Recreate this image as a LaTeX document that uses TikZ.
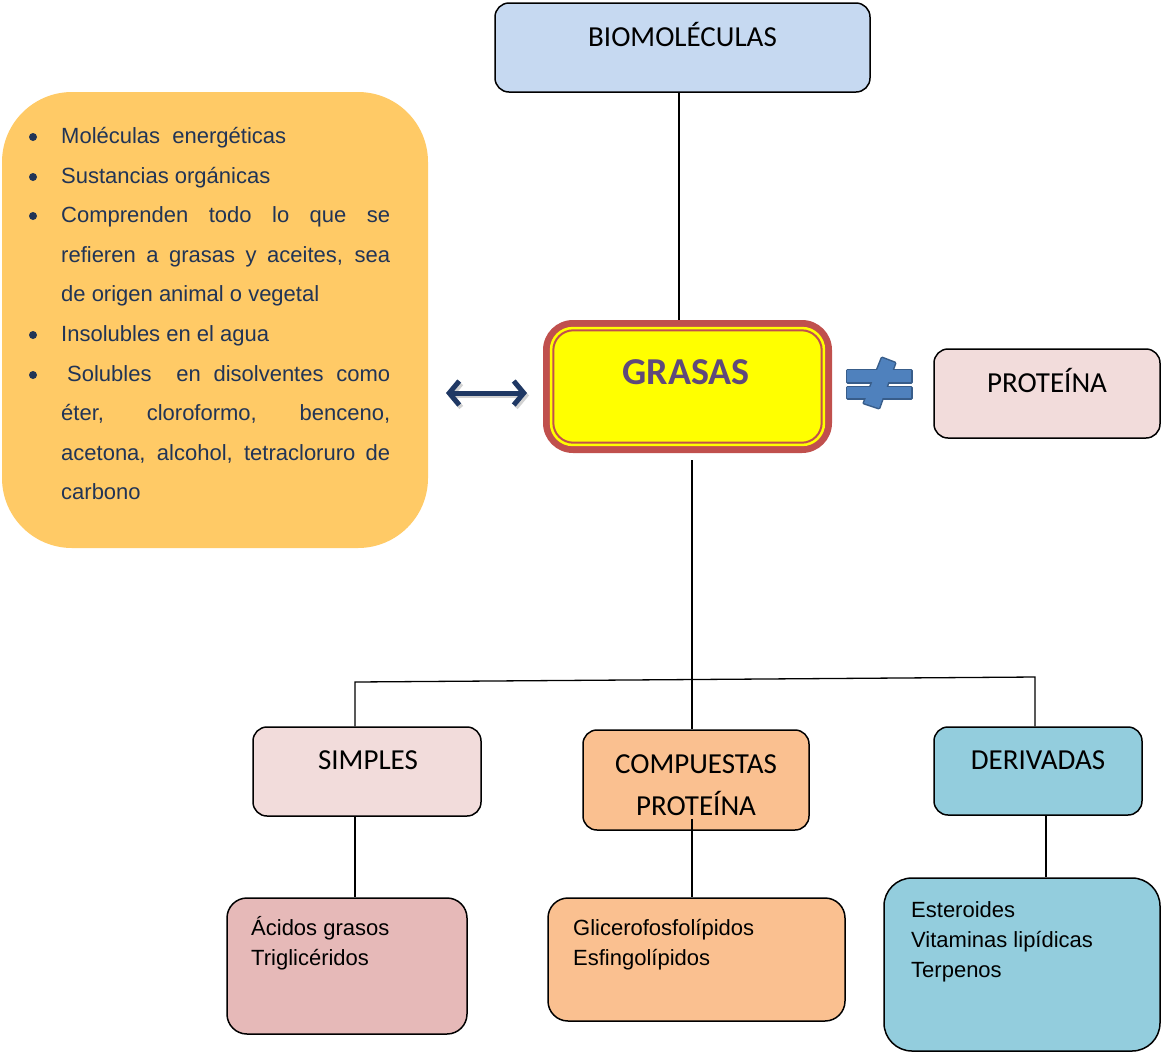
\documentclass[tikz,border=0pt]{standalone}
\usepackage{fontspec}
\setmainfont{Liberation Sans}
\newfontfamily\carlito{Carlito}
\usetikzlibrary{arrows.meta,calc}

\definecolor{bioblue}{RGB}{198,217,241}
\definecolor{rosa}{RGB}{242,220,219}
\definecolor{rosaosc}{RGB}{230,185,184}
\definecolor{naranja}{RGB}{250,192,144}
\definecolor{turq}{RGB}{147,205,221}
\definecolor{ambar}{RGB}{255,202,102}
\definecolor{rojo}{RGB}{192,80,77}
\definecolor{amarillo}{RGB}{255,255,0}
\definecolor{morado}{RGB}{95,73,122}
\definecolor{marino}{RGB}{31,56,100}
\definecolor{texto}{RGB}{33,52,86}
\definecolor{azul}{RGB}{79,129,189}
\definecolor{azulosc}{RGB}{56,93,138}

\begin{document}
\begin{tikzpicture}[x=1pt,y=-1pt,
  caja/.style={draw=black, line width=1.5pt, rounded corners=14pt, inner sep=0pt},
  titulo/.style={anchor=base, inner sep=0pt, font=\carlito\fontsize{29}{34}\selectfont},
  cuerpo/.style={anchor=base west, inner sep=0pt, font=\fontsize{22}{26}\selectfont},
  lista/.style={cuerpo, text=texto},
  vineta/.style={circle, fill=texto, minimum size=8pt, inner sep=0pt},
  enlace/.style={line width=1.3pt, draw=black}]

\useasboundingbox (0,0) rectangle (1161,1053);

% ---- boxes ----
\node[caja, fill=bioblue, minimum width=375pt, minimum height=89pt] (bio) at (682.5,47.5) {};
\node[fill=ambar, rounded corners=70pt, minimum width=426pt, minimum height=456pt, inner sep=0pt] (listbox) at (215,320) {};

% GRASAS: thick red frame, yellow body and a thin inner red rule
\node[fill=rojo, rounded corners=30pt, minimum width=289pt, minimum height=133pt, inner sep=0pt] (grasas) at (687.5,386.5) {};
\fill[amarillo, rounded corners=23pt] ([shift={(7,7)}]grasas.north west) rectangle ([shift={(-7,-7)}]grasas.south east);
\draw[rojo, line width=2pt, rounded corners=20pt] ([shift={(10.5,10.5)}]grasas.north west) rectangle ([shift={(-10.5,-10.5)}]grasas.south east);

\node[caja, fill=rosa, minimum width=226pt, minimum height=89pt] (prot) at (1047,393.5) {};
\node[caja, fill=rosa, minimum width=228pt, minimum height=89pt] (simples) at (367,771.5) {};
\node[caja, fill=naranja, minimum width=226pt, minimum height=100pt] (comp) at (696,780) {};
\node[caja, fill=turq, minimum width=208pt, minimum height=88pt] (deriv) at (1038,771) {};

\node[caja, fill=rosaosc, rounded corners=20pt, minimum width=240pt, minimum height=136pt] (acidos) at (347,966) {};
\node[caja, fill=naranja, rounded corners=20pt, minimum width=297pt, minimum height=123pt] (glic) at (696.5,959.5) {};
\node[caja, fill=turq, rounded corners=28pt, minimum width=276pt, minimum height=173pt] (ester) at (1022,964.5) {};

% ---- connectors ----
\coordinate (bioOut) at ([xshift=-3.5pt]bio.south);
\draw[enlace] (bioOut) -- (bioOut |- grasas.north);
\coordinate (grOut) at ([shift={(4.5,7)}]grasas.south);
\draw[enlace] (grOut) -- (grOut |- comp.north);
\coordinate (hl) at (355,682);
\coordinate (hr) at (1035,677);
\draw[enlace] (simples.north -| hl) -- (hl) -- (hr) -- (hr |- deriv.north);
\draw[enlace] (simples.south -| hl) -- (hl |- acidos.north);
\coordinate (compOut) at ([shift={(-4,-12)}]comp.south);
\draw[enlace] (compOut) -- (compOut |- glic.north);
\coordinate (derOut) at ([xshift=8pt]deriv.south);
\draw[enlace] (derOut) -- (derOut |- ester.north);

% double arrow between the list and GRASAS
\coordinate (arrL) at (446,393);
\coordinate (arrR) at (527,393);
\draw[black!35, opacity=0.5, line width=5pt, {Straight Barb[length=10pt,width=24pt]}-{Straight Barb[length=10pt,width=24pt]}]
  ([shift={(2,2.5)}]arrL) -- ([shift={(2,2.5)}]arrR);
\draw[marino, line width=5pt, {Straight Barb[length=10pt,width=24pt]}-{Straight Barb[length=10pt,width=24pt]}]
  (arrL) -- (arrR);

% not-equal sign: outlines first, then the fills cover the inner halves
\begin{scope}
  \def\barA{(847,370) rectangle (911,382)}
  \def\barB{(847,387) rectangle (911,398)}
  \def\slash{(882,358) -- (895,363) -- (879,408) -- (864,403) -- cycle}
  \draw[azulosc, line width=3pt, line join=round] \barA;
  \draw[azulosc, line width=3pt, line join=round] \barB;
  \draw[azulosc, line width=3pt, line join=round] \slash;
  \fill[azul] \barA;
  \fill[azul] \barB;
  \fill[azul] \slash;
\end{scope}

% ---- titles ----
\node[titulo] (bioT) at (682.5,46) {BIOMOLÉCULAS};
\node[anchor=base, inner sep=0pt, text=morado, font=\carlito\bfseries\fontsize{38}{44}\selectfont] (grasasT) at (686,384) {GRASAS};
\node[titulo] (protT) at (1047,392) {PROTEÍNA};
\node[titulo] (simplesT) at (368,769) {SIMPLES};
\node[titulo] (compT1) at (696,773) {COMPUESTAS};
\node[titulo] (compT2) at (696,815) {PROTEÍNA};
\node[titulo] (derivT) at (1038,769) {DERIVADAS};

% ---- bullet list ----
\node[vineta] (v1) at (33,137) {};
\node[vineta] (v2) at (33,177) {};
\node[vineta] (v3) at (33,216) {};
\node[vineta] (v4) at (33,335) {};
\node[vineta] (v5) at (33,375) {};
\node[lista] (l1) at (61,143) {Moléculas~~energéticas};
\node[lista] (l2) at (61,183) {Sustancias orgánicas};
\node[lista] (l3) at (61,222) {\makebox[329pt][s]{Comprenden todo lo que se}};
\node[lista] (l4) at (61,262) {\makebox[329pt][s]{refieren a grasas y aceites, sea}};
\node[lista] (l5) at (61,301) {de origen animal o vegetal};
\node[lista] (l6) at (61,341) {Insolubles en el agua};
\node[lista] (l7) at (67,381) {\makebox[323pt][s]{Solubles\hspace{12pt} en disolventes como}};
\node[lista] (l8) at (61,420) {\makebox[329pt][s]{éter, cloroformo, benceno,}};
\node[lista] (l9) at (61,460) {\makebox[329pt][s]{acetona, alcohol, tetracloruro de}};
\node[lista] (l10) at (61,499) {carbono};

% ---- box contents ----
\node[cuerpo] (a1) at (251,935) {Ácidos grasos};
\node[cuerpo] (a2) at (251,965) {Triglicéridos};
\node[cuerpo] (g1) at (573,935) {Glicerofosfolípidos};
\node[cuerpo] (g2) at (573,965) {Esfingolípidos};
\node[cuerpo] (e1) at (911,917) {Esteroides};
\node[cuerpo] (e2) at (911,947) {Vitaminas lipídicas};
\node[cuerpo] (e3) at (911,977) {Terpenos};
\end{tikzpicture}
\end{document}
